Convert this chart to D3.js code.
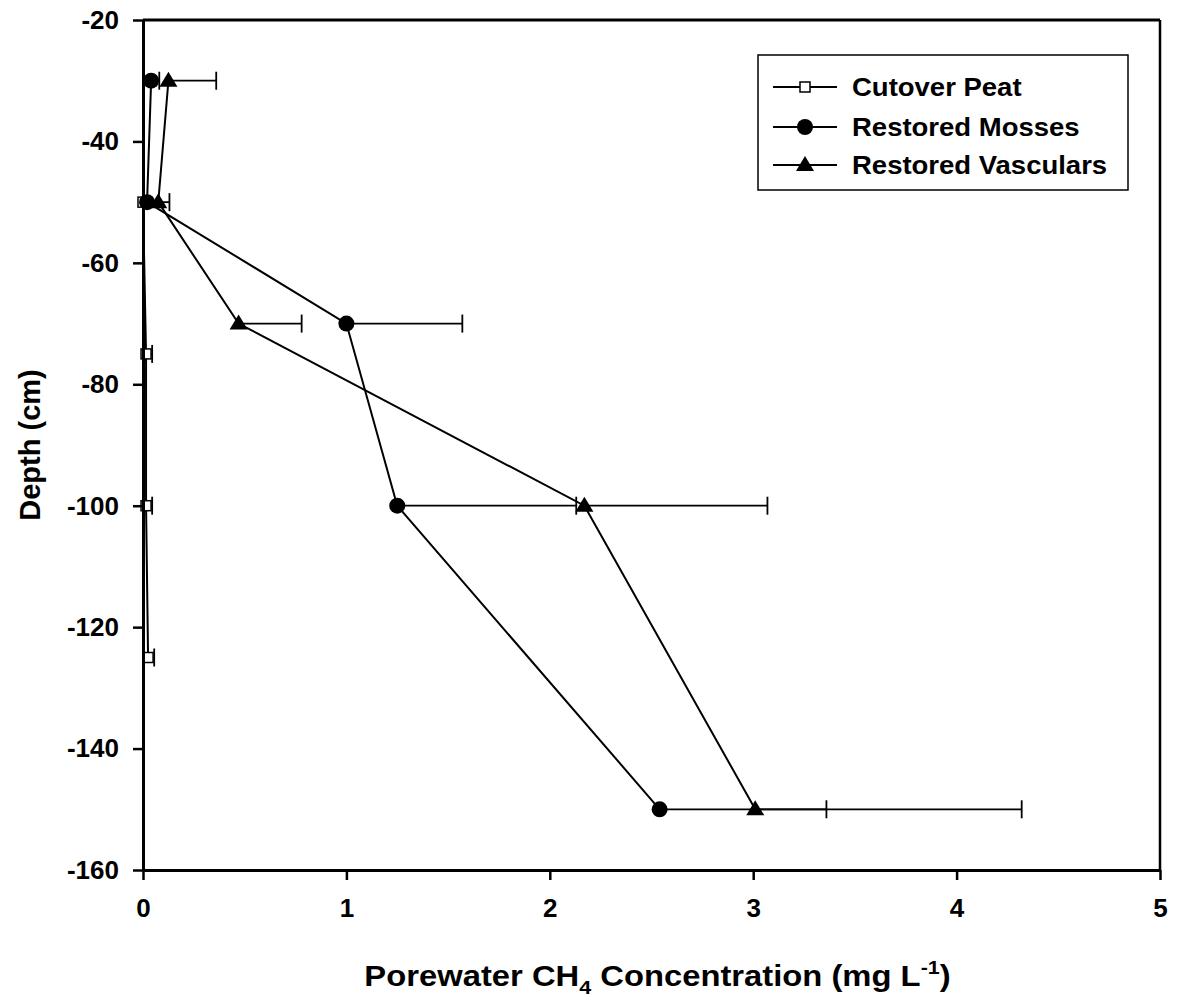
<!DOCTYPE html>
<html>
<head>
<meta charset="utf-8">
<script src="https://cdn.jsdelivr.net/npm/d3@7"></script>
<style>
  body { margin: 0; background: #fff; }
  svg { display: block; font-family: 'Liberation Sans', Arial, sans-serif; }
</style>
</head>
<body>
<svg id="chart"></svg>
<script>
// data
var seriesNames = ['Cutover Peat', 'Restored Mosses', 'Restored Vasculars'];

var cutoverDepth = [-50, -75, -100, -125];
var cutoverConc = [0.0, 0.015, 0.015, 0.025];
var cutoverErr = [0.0, 0.03, 0.03, 0.03];

var mossesDepth = [-30, -50, -70, -100, -150];
var mossesConc = [0.04, 0.02, 1.0, 1.25, 2.54];
var mossesErr = [0.04, 0.0, 0.57, 0.88, 0.82];

var vascDepth = [-30, -50, -70, -100, -150];
var vascConc = [0.125, 0.075, 0.47, 2.17, 3.01];
var vascErr = [0.235, 0.055, 0.31, 0.9, 1.31];

var xTicks = [0, 1, 2, 3, 4, 5];
var yTicks = [-20, -40, -60, -80, -100, -120, -140, -160];

var width = 1180, height = 997;
var mLeft = 143, mRight = 1160, mTop = 20, mBottom = 870;

var svg = d3.select('#chart').attr('width', width).attr('height', height);
svg.append('rect').attr('width', width).attr('height', height).attr('fill', '#fff');

var x = d3.scaleLinear().domain([0, 5]).range([mLeft, mRight]);
var y = d3.scaleLinear().domain([-20, -160]).range([mTop, mBottom]);

function zip(d, c, e) {
	return d.map(function(v, i) { return { depth: v, conc: c[i], err: e[i] }; });
}
var series = [
	{ name: seriesNames[0], marker: 'square', data: zip(cutoverDepth, cutoverConc, cutoverErr) },
	{ name: seriesNames[1], marker: 'circle', data: zip(mossesDepth, mossesConc, mossesErr) },
	{ name: seriesNames[2], marker: 'triangle', data: zip(vascDepth, vascConc, vascErr) }
];

// frame top + right
svg.append('line').attr('x1', mLeft).attr('x2', mRight).attr('y1', mTop).attr('y2', mTop)
	.attr('stroke', '#000').attr('stroke-width', 3);
svg.append('line').attr('x1', mRight).attr('x2', mRight).attr('y1', mTop).attr('y2', mBottom)
	.attr('stroke', '#000').attr('stroke-width', 2.5);

var line = d3.line().x(function(d) { return x(d.conc); }).y(function(d) { return y(d.depth); });

function drawMarker(g, type, cx, cy) {
	if (type === 'square') {
		g.append('rect').attr('x', cx - 5).attr('y', cy - 5).attr('width', 10).attr('height', 10)
			.attr('fill', '#fff').attr('stroke', '#000').attr('stroke-width', 1.5);
	} else if (type === 'circle') {
		g.append('circle').attr('cx', cx).attr('cy', cy).attr('r', 8).attr('fill', '#000');
	} else {
		g.append('path').attr('d', 'M' + cx + ',' + (cy - 9) + 'L' + (cx + 9) + ',' + (cy + 6) + 'L' + (cx - 9) + ',' + (cy + 6) + 'Z')
			.attr('fill', '#000');
	}
}

series.forEach(function(s) {
	var g = svg.append('g');
	g.append('path').datum(s.data).attr('fill', 'none').attr('stroke', '#000')
		.attr('stroke-width', 2).attr('d', line);
	s.data.forEach(function(d) {
		if (d.err > 0) {
			var x0 = x(d.conc), x1 = x(d.conc + d.err), yy = y(d.depth);
			g.append('line').attr('x1', x0).attr('x2', x1).attr('y1', yy).attr('y2', yy)
				.attr('stroke', '#000').attr('stroke-width', 1.8);
			g.append('line').attr('x1', x1).attr('x2', x1).attr('y1', yy - 9).attr('y2', yy + 9)
				.attr('stroke', '#000').attr('stroke-width', 1.8);
		}
	});
	s.data.forEach(function(d) { drawMarker(g, s.marker, x(d.conc), y(d.depth)); });
});

// axes
var plain = function(d) { return String(d); };
var yAxis = d3.axisLeft(y).tickValues(yTicks).tickFormat(plain)
	.tickSize(10).tickPadding(14).tickSizeOuter(0);
var gy = svg.append('g').attr('transform', 'translate(' + mLeft + ',0)').call(yAxis);
var xAxis = d3.axisBottom(x).tickValues(xTicks).tickFormat(plain)
	.tickSize(10).tickPadding(19).tickSizeOuter(0);
var gx = svg.append('g').attr('transform', 'translate(0,' + mBottom + ')').call(xAxis);

[gx, gy].forEach(function(g) {
	g.select('.domain').attr('stroke-width', 3);
	g.selectAll('.tick line').attr('stroke-width', 2.5);
	g.selectAll('.tick text').attr('font-size', 26).attr('font-weight', 'bold')
		.attr('font-family', "'Liberation Sans', Arial, sans-serif").attr('fill', '#000');
});

// axis titles
var xt = svg.append('text')
	.attr('transform', 'translate(' + ((mLeft + mRight) / 2 + 6) + ',986) scale(1.13,1)')
	.attr('text-anchor', 'middle').attr('font-size', 29).attr('font-weight', 'bold');
xt.append('tspan').text('Porewater CH');
xt.append('tspan').attr('font-size', 19).attr('dy', 8).text('4');
xt.append('tspan').attr('dy', -8).text(' Concentration (mg L');
xt.append('tspan').attr('font-size', 19).attr('dy', -12).text('-1');
xt.append('tspan').attr('dy', 12).text(')');

svg.append('text').attr('transform', 'translate(40,445) rotate(-90)')
	.attr('text-anchor', 'middle').attr('font-size', 29).attr('font-weight', 'bold')
	.text('Depth (cm)');

// legend
var lg = svg.append('g');
lg.append('rect').attr('x', 758).attr('y', 55).attr('width', 370).attr('height', 135)
	.attr('fill', '#fff').attr('stroke', '#000').attr('stroke-width', 1.5);
var legendY = [87, 127, 165];
series.forEach(function(s, i) {
	var yy = legendY[i];
	lg.append('line').attr('x1', 773).attr('x2', 837).attr('y1', yy).attr('y2', yy)
		.attr('stroke', '#000').attr('stroke-width', 2);
	drawMarker(lg, s.marker, 805, yy);
	lg.append('text').attr('transform', 'translate(852,' + (yy + 9) + ') scale(1.1,1)')
		.attr('font-size', 25).attr('font-weight', 'bold').text(s.name);
});
</script>
</body>
</html>
